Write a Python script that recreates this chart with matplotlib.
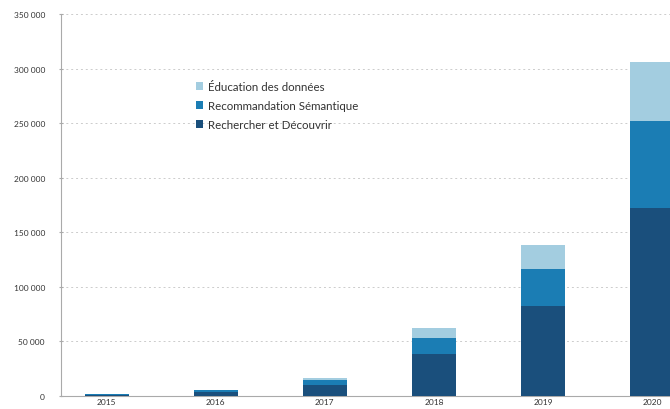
import matplotlib
matplotlib.use("Agg")
import matplotlib.pyplot as plt
import numpy as np

plt.rcParams["font.family"] = ["Lato", "DejaVu Sans"]

years = ["2015", "2016", "2017", "2018", "2019", "2020"]
rechercher = [1200, 4000, 10000, 38800, 82000, 172000]
recommandation = [200, 1000, 4500, 13900, 34000, 80000]
education = [100, 500, 2000, 9300, 22000, 54000]
series_names = ["Éducation des données", "Recommandation Sémantique", "Rechercher et Découvrir"]
yticks = [0, 50000, 100000, 150000, 200000, 250000, 300000, 350000]

DARK, MID, LIGHT = "#1a4f7c", "#1b7db4", "#a3cde0"

fig = plt.figure(figsize=(6.7, 4.1), dpi=100)
ax = fig.add_axes([0.091, 0.032, 0.909, 0.931])

x = np.arange(len(years))
w = 0.4
b1 = ax.bar(x, rechercher, w, color=DARK, zorder=3)
b2 = ax.bar(x, recommandation, w, bottom=rechercher, color=MID, zorder=3)
bottom3 = np.array(rechercher) + np.array(recommandation)
b3 = ax.bar(x, education, w, bottom=bottom3, color=LIGHT, zorder=3)

ax.set_xlim(-0.42, 5.165)
ax.set_ylim(0, 350000)
ax.set_yticks(yticks)
ax.set_yticklabels([f"{v:,}".replace(",", " ") for v in yticks], fontsize=6, color="#333333")
ax.set_xticks(x)
ax.set_xticklabels(years, fontsize=6, color="#333333")
ax.tick_params(axis="x", length=0, pad=1.5)
ax.tick_params(axis="y", length=3, direction="inout", color="#aaaaaa", pad=10)

ax.grid(axis="y", linestyle=(0, (2, 3)), color="#cccccc", linewidth=0.7, zorder=0)
for s in ["top", "right"]:
    ax.spines[s].set_visible(False)
for s in ["left", "bottom"]:
    ax.spines[s].set_color("#aaaaaa")
    ax.spines[s].set_linewidth(0.8)

ax.legend([b3, b2, b1], series_names, loc="upper left", bbox_to_anchor=(0.205, 0.852),
          frameon=False, fontsize=8.3, handlelength=0.6, handleheight=0.7,
          handletextpad=0.4, labelspacing=0.7, labelcolor="#333333")

fig.savefig("out.png", dpi=100, facecolor="white")
